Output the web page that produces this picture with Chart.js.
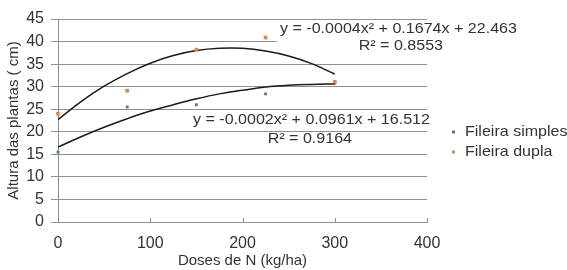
<!DOCTYPE html>
<html>
<head>
<meta charset="utf-8">
<script src="https://cdn.jsdelivr.net/npm/chart.js@4.4.0/dist/chart.umd.min.js"></script>
<style>
  html, body { margin: 0; padding: 0; background: #fff; }
  #wrap { width: 567px; height: 270px; }
</style>
</head>
<body>
<div id="wrap"><canvas id="chart" width="567" height="270"></canvas></div>
<script>
// Doses de N (kg/ha) used in the trial
const doses = [0, 75, 150, 225, 300];
// plant height (cm) per row layout
const simples = [15.5, 25.5, 26.0, 28.4, 30.8];
const dupla = [24.0, 29.1, 38.2, 40.9, 31.1];

// trendlines (x every 25)
const trendX = [0, 25, 50, 75, 100, 125, 150, 175, 200, 225, 250, 275, 300];
const trendSimples = [16.6, 18.9, 21.0, 22.9, 24.6, 26.0, 27.3, 28.4, 29.2, 29.9, 30.3, 30.5, 30.6];
const trendDupla = [22.7, 26.7, 30.1, 32.9, 35.2, 36.9, 38.0, 38.5, 38.5, 37.9, 36.8, 35.1, 32.8];

const seriesNames = ['Fileira simples', 'Fileira dupla'];
const eqSimples = ['y = -0.0002x\u00b2 + 0.0961x + 16.512', 'R\u00b2 = 0.9164'];
const eqDupla = ['y = -0.0004x\u00b2 + 0.1674x + 22.463', 'R\u00b2 = 0.8553'];

const colSimples = '#4d7f9b';
const colDupla = '#e8843c';
const textCol = '#333333';
const gridCol = '#8f8f8f';
const FONT = "'Liberation Sans', Arial, sans-serif";

const pts = (xs, ys) => xs.map((x, i) => ({ x: x, y: ys[i] }));

// equations, legend and inward x ticks
const extras = {
  id: 'extras',
  beforeDatasetsDraw(chart) {
    const ctx = chart.ctx;
    ctx.save();
    ctx.fillStyle = '#fff';
    ctx.fillRect(277, 21, 243, 32); // label box of the upper equation
    ctx.restore();
  },
  afterDraw(chart) {
    const ctx = chart.ctx;
    const xs = chart.scales.x;
    const area = chart.chartArea;
    ctx.save();
    // small ticks pointing up from the x axis
    ctx.strokeStyle = gridCol;
    ctx.lineWidth = 1;
    xs.ticks.forEach(t => {
      const px = Math.round(xs.getPixelForValue(t.value)) + 0.5;
      ctx.beginPath();
      ctx.moveTo(px, area.bottom);
      ctx.lineTo(px, area.bottom - 4);
      ctx.stroke();
    });

    ctx.fillStyle = textCol;
    ctx.font = '15px ' + FONT;
    ctx.textBaseline = 'middle';
    const sx = 1.07;
    const drawText = (s, x, y, align) => {
      ctx.save();
      ctx.translate(x, y);
      ctx.scale(sx, 1);
      ctx.textAlign = align;
      ctx.fillText(s, 0, 0);
      ctx.restore();
    };
    drawText(eqDupla[0], 280, 29, 'left');
    drawText(eqDupla[1], 443, 46, 'right');
    drawText(eqSimples[0], 193, 120, 'left');
    drawText(eqSimples[1], 352, 139, 'right');

    // legend
    const items = [[seriesNames[0], colSimples, 132], [seriesNames[1], colDupla, 152]];
    items.forEach(([name, c, y]) => {
      ctx.fillStyle = c;
      ctx.fillRect(452, y - 1.5, 3, 3);
      ctx.fillStyle = textCol;
      drawText(name, 465, y, 'left');
    });
    ctx.restore();
  }
};

new Chart(document.getElementById('chart'), {
  type: 'scatter',
  data: {
    datasets: [
      {
        label: seriesNames[0] + ' trend',
        data: pts(trendX, trendSimples),
        showLine: true,
        borderColor: '#1a1a1a',
        borderWidth: 1.5,
        pointRadius: 0,
        tension: 0.4,
        clip: false,
        order: 1
      },
      {
        label: seriesNames[1] + ' trend',
        data: pts(trendX, trendDupla),
        showLine: true,
        borderColor: '#1a1a1a',
        borderWidth: 1.5,
        pointRadius: 0,
        tension: 0.4,
        clip: false,
        order: 1
      },
      {
        label: seriesNames[0],
        data: pts(doses, simples),
        pointStyle: 'rect',
        pointRadius: 2,
        backgroundColor: colSimples,
        borderColor: colSimples,
        borderWidth: 0,
        clip: false,
        order: 2
      },
      {
        label: seriesNames[1],
        data: pts(doses, dupla),
        pointStyle: 'rect',
        pointRadius: 2.6,
        backgroundColor: colDupla,
        borderColor: colDupla,
        borderWidth: 0,
        clip: false,
        order: 0
      }
    ]
  },
  options: {
    responsive: false,
    animation: false,
    layout: { padding: { top: 19, right: 140, left: 0, bottom: 0 } },
    plugins: {
      legend: { display: false },
      tooltip: { enabled: false }
    },
    scales: {
      x: {
        type: 'linear',
        min: 0,
        max: 400,
        ticks: { stepSize: 100, padding: 12, color: textCol, font: { family: FONT, size: 16 } },
        grid: { drawOnChartArea: false, drawTicks: false, color: gridCol },
        border: { color: gridCol, width: 1 },
        title: {
          display: true,
          text: 'Doses de N (kg/ha)',
          color: textCol,
          font: { family: FONT, size: 15 },
          padding: { top: 0, bottom: 0 }
        },
        afterFit: s => { s.height = 48; }
      },
      y: {
        min: 0,
        max: 45,
        ticks: { stepSize: 5, padding: 7, color: textCol, font: { family: FONT, size: 16 } },
        grid: { color: gridCol, lineWidth: 1, tickLength: 7 },
        border: { color: gridCol, width: 1 },
        title: {
          display: true,
          text: 'Altura das plantas ( cm)',
          color: textCol,
          font: { family: FONT, size: 15 },
          padding: { top: 5, bottom: 0 }
        },
        afterFit: s => { s.width = 58; }
      }
    }
  },
  plugins: [extras]
});
</script>
</body>
</html>
